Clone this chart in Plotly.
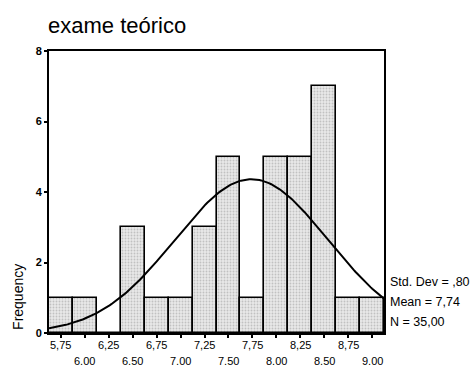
import numpy as np
import plotly.graph_objects as go

bin_centers = [5.75, 6.00, 6.25, 6.50, 6.75, 7.00, 7.25, 7.50, 7.75, 8.00, 8.25, 8.50, 8.75, 9.00]
counts = [1, 1, 0, 3, 1, 1, 3, 5, 1, 5, 5, 7, 1, 1]
row1_ticks = [5.75, 6.25, 6.75, 7.25, 7.75, 8.25, 8.75]
row1_labels = ["5,75", "6,25", "6,75", "7,25", "7,75", "8,25", "8,75"]
row2_ticks = [6.00, 6.50, 7.00, 7.50, 8.00, 8.50, 9.00]
row2_labels = ["6.00", "6.50", "7.00", "7.50", "8.00", "8.50", "9.00"]
y_ticks = [0, 2, 4, 6, 8]
stats_labels = ["Std. Dev = ,80", "Mean = 7,74", "N = 35,00"]
std_dev = 0.80
mean = 7.74
n = 35
bin_width = 0.25
title = "exame teórico"

FONT = "Liberation Sans, Arial, sans-serif"

fig = go.Figure()
fig.add_trace(go.Bar(
    x=bin_centers, y=counts, width=bin_width,
    marker=dict(color="#dcdcdc", line=dict(color="black", width=1.6),
                pattern=dict(shape=".", fgcolor="#9a9a9a", bgcolor="#e8e8e8", size=3, solidity=0.3)),
    showlegend=False, hoverinfo="skip",
))

xs = np.linspace(bin_centers[0] - bin_width / 2, bin_centers[-1] + bin_width / 2, 200)
ys = n * bin_width / (std_dev * np.sqrt(2 * np.pi)) * np.exp(-0.5 * ((xs - mean) / std_dev) ** 2)
fig.add_trace(go.Scatter(x=xs, y=ys, mode="lines", line=dict(color="black", width=2),
                         showlegend=False, hoverinfo="skip"))

annotations = []
for t, lab in zip(row1_ticks, row1_labels):
    annotations.append(dict(x=t, y=0, xref="x", yref="paper", text=lab, showarrow=False,
                            yanchor="top", yshift=-4, font=dict(family=FONT, size=11, color="black")))
for t, lab in zip(row2_ticks, row2_labels):
    annotations.append(dict(x=t, y=0, xref="x", yref="paper", text=lab, showarrow=False,
                            yanchor="top", yshift=-20, font=dict(family=FONT, size=11, color="black")))

for s, yy in zip(stats_labels, [1.45, 0.88, 0.31]):
    annotations.append(dict(x=1.012, y=yy, xref="paper", yref="y", text=s, showarrow=False,
                            xanchor="left", yanchor="middle",
                            font=dict(family=FONT, size=12.5, color="black")))

annotations.append(dict(x=-0.0925, y=0.128, xref="paper", yref="paper", text="Frequency", textangle=-90,
                        showarrow=False, xanchor="center", yanchor="middle",
                        font=dict(family=FONT, size=14, color="black")))

fig.update_layout(
    width=470, height=367,
    margin=dict(l=49, r=86, t=51, b=34),
    paper_bgcolor="white", plot_bgcolor="white",
    bargap=0,
    title=dict(text=title, x=48 / 470, xanchor="left", y=1 - 25 / 367, yanchor="middle",
               font=dict(family=FONT, size=22, color="black")),
    xaxis=dict(range=[5.625, 9.125], tickvals=bin_centers, ticktext=[""] * len(bin_centers),
               ticks="outside", ticklen=3, tickwidth=1.5, tickcolor="black",
               showline=True, linecolor="black", linewidth=2, mirror=True, showgrid=False, zeroline=False),
    yaxis=dict(range=[0, 8], tickvals=y_ticks, ticks="outside", ticklen=3, tickwidth=2, tickcolor="black",
               showline=True, linecolor="black", linewidth=2, mirror=True, showgrid=False, zeroline=False,
               tickfont=dict(family=FONT, size=11, color="black", weight="bold")),
    annotations=annotations,
    font=dict(family=FONT, color="black"),
)

fig.write_html("out.html", config={"displayModeBar": False},
               post_script="document.body.style.margin='0';document.body.style.padding='0';")
